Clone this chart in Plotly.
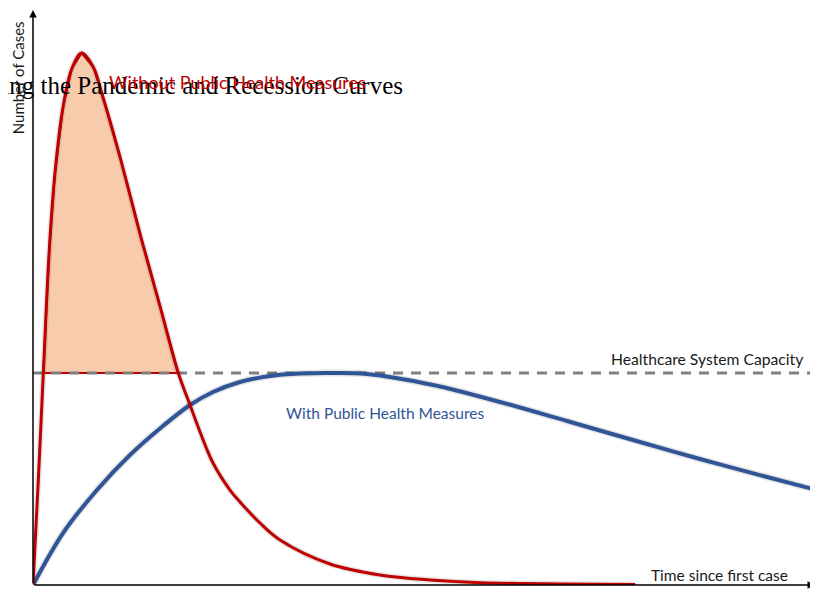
import plotly.graph_objects as go

# Time (arbitrary units) and number of cases
red_t = [0, 0.68, 1.32, 2.08, 2.81, 3.84, 4.99, 6.23, 7.71, 8.79, 11.13, 13.9, 16.24, 18.58,
         20.08, 21.36, 23.02, 25.19, 26.47, 29.03, 31.59, 37.98, 44.37, 50.77, 57.16, 77.01]
red_y = [0, 19.81, 40.0, 63.21, 77.74, 90.19, 97.55, 100.38, 97.74, 92.83, 80.75, 65.09, 52.64, 40.0,
         33.96, 28.87, 23.02, 17.92, 15.66, 11.7, 8.49, 3.96, 1.89, 0.94, 0.43, 0.09]

blue_t = [0, 3.84, 8.18, 12.4, 16.62, 20.08, 23.02, 26.47, 30.31, 34.14, 37.98, 42.71,
          51.15, 59.72, 68.29, 76.73, 85.29, 93.86, 99.74]
blue_y = [0, 9.81, 17.92, 24.53, 30.0, 33.96, 36.42, 38.3, 39.43, 39.9, 40.0, 39.81,
          37.74, 34.53, 30.94, 27.36, 23.77, 20.38, 18.11]

capacity = 40
x_max = 100
y_max = 108.5

RED = "#C00000"
BLUE = "#2F5597"
FILL = "#F8CBAD"

# excess region (red curve above capacity)
ex_t = [t for t, y in zip(red_t, red_y) if y >= capacity]
ex_y = [y for t, y in zip(red_t, red_y) if y >= capacity]

fig = go.Figure()
fig.add_trace(go.Scatter(x=ex_t + [ex_t[0]], y=ex_y + [ex_y[0]], mode="lines",
                         fill="toself", fillcolor=FILL,
                         line=dict(color=RED, width=2, shape="linear"),
                         hoverinfo="skip", showlegend=False))
fig.add_trace(go.Scatter(x=[0, x_max], y=[capacity, capacity], mode="lines",
                         line=dict(color="#7F7F7F", width=3, dash="10px,8px"),
                         showlegend=False))
# faint drop-shadow halos under the curves
fig.add_trace(go.Scatter(x=blue_t, y=blue_y, mode="lines", hoverinfo="skip",
                         line=dict(color="rgba(0,0,0,0.10)", width=7, shape="spline", smoothing=1),
                         showlegend=False))
fig.add_trace(go.Scatter(x=blue_t, y=blue_y, mode="lines",
                         line=dict(color=BLUE, width=4, shape="spline", smoothing=1),
                         showlegend=False))
fig.add_trace(go.Scatter(x=red_t, y=red_y, mode="lines", hoverinfo="skip",
                         line=dict(color="rgba(0,0,0,0.10)", width=6, shape="spline", smoothing=1),
                         showlegend=False))
fig.add_trace(go.Scatter(x=red_t, y=red_y, mode="lines",
                         line=dict(color=RED, width=3, shape="spline", smoothing=1),
                         showlegend=False))

font = "Lato"
ann = [
    dict(x=0, y=y_max, ax=0, ay=575, xref="x", yref="y", showarrow=True, arrowhead=2,
         arrowsize=1, arrowwidth=1.5, arrowcolor="black", text=""),
    dict(x=x_max, y=0, ax=-782, ay=0, xref="x", yref="y", showarrow=True, arrowhead=2,
         arrowsize=1, arrowwidth=1.5, arrowcolor="black", text=""),
    dict(x=-0.0192, y=0.883, xref="paper", yref="paper", text="Number of Cases",
         textangle=-90, showarrow=False, font=dict(family=font, size=15, color="#1a1a1a"),
         xanchor="center", yanchor="middle"),
    dict(x=98.7, y=capacity, xref="x", yref="y", text="Healthcare System Capacity",
         showarrow=False, font=dict(family=font, size=15.7, color="#1a1a1a"),
         xanchor="right", yanchor="bottom", yshift=3),
    dict(x=96.8, y=0, xref="x", yref="y", text="Time since first case",
         showarrow=False, font=dict(family=font, size=15.5, color="#1a1a1a"),
         xanchor="right", yanchor="bottom", yshift=-1),
    dict(x=45.0, y=32.5, xref="x", yref="y", text="With Public Health Measures",
         showarrow=False, font=dict(family=font, size=15.5, color=BLUE),
         xanchor="center", yanchor="middle"),
    dict(x=26.1, y=94.9, xref="x", yref="y", text="Without Public Health Measures",
         showarrow=False, font=dict(family=font, size=18, color=RED),
         xanchor="center", yanchor="middle"),
]

# the page body adds an 8px offset; size/margins compensate so the plot area
# lands at x 33..815 and y 10..585 in the 818x589 window
fig.update_layout(
    width=810, height=581,
    margin=dict(l=25, r=3, t=2, b=4),
    paper_bgcolor="white", plot_bgcolor="white",
    xaxis=dict(range=[0, x_max], visible=False),
    yaxis=dict(range=[0, y_max], visible=False),
    annotations=ann,
    title=dict(text="Flattening the Pandemic and Recession Curves",
               x=395 / 810, xanchor="right", xref="container",
               y=1 - 77 / 581, yanchor="middle", yref="container",
               font=dict(family="Liberation Serif", size=25, color="black")),
)
fig.write_html("out.html")
